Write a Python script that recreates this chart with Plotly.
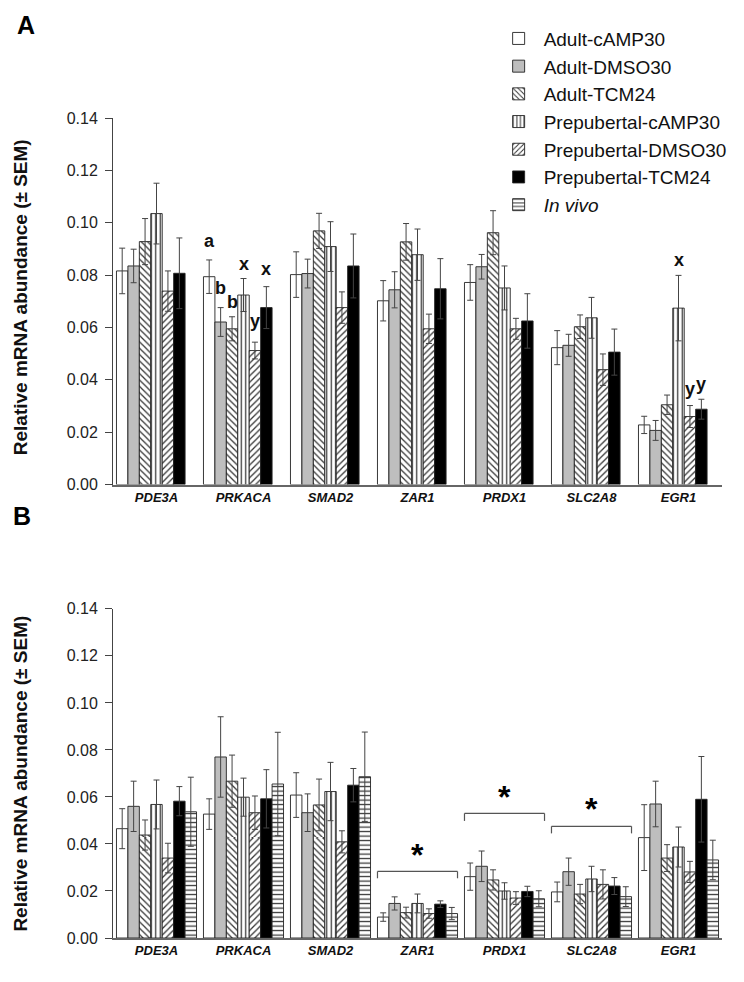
import plotly.graph_objects as go

genes = ["PDE3A", "PRKACA", "SMAD2", "ZAR1", "PRDX1", "SLC2A8", "EGR1"]
series_names = ["Adult-cAMP30", "Adult-DMSO30", "Adult-TCM24",
                "Prepubertal-cAMP30", "Prepubertal-DMSO30", "Prepubertal-TCM24",
                "<i>In vivo</i>"]

# Panel A (values, SEM)
adult_camp_A = [0.0816, 0.0794, 0.0802, 0.0702, 0.0772, 0.0523, 0.0228]
adult_camp_A_err = [0.0087, 0.0064, 0.0087, 0.0077, 0.0068, 0.0065, 0.0033]
adult_dmso_A = [0.0835, 0.0621, 0.0806, 0.0744, 0.0832, 0.0532, 0.0207]
adult_dmso_A_err = [0.0064, 0.0055, 0.0055, 0.0069, 0.0047, 0.0042, 0.0038]
adult_tcm_A = [0.0928, 0.0595, 0.0969, 0.0927, 0.0962, 0.0603, 0.0305]
adult_tcm_A_err = [0.0088, 0.0046, 0.0067, 0.0070, 0.0084, 0.0045, 0.0037]
pre_camp_A = [0.1035, 0.0724, 0.0909, 0.0878, 0.0751, 0.0637, 0.0674]
pre_camp_A_err = [0.0116, 0.0063, 0.0095, 0.0098, 0.0084, 0.0078, 0.0125]
pre_dmso_A = [0.0739, 0.0512, 0.0676, 0.0595, 0.0595, 0.0439, 0.0260]
pre_dmso_A_err = [0.0077, 0.0032, 0.0060, 0.0056, 0.0040, 0.0060, 0.0042]
pre_tcm_A = [0.0807, 0.0676, 0.0835, 0.0748, 0.0625, 0.0506, 0.0288]
pre_tcm_A_err = [0.0135, 0.0080, 0.0122, 0.0115, 0.0104, 0.0088, 0.0038]
invivo_A = [None] * 7
invivo_A_err = [0] * 7

# Panel B (values, SEM)
adult_camp_B = [0.0465, 0.0527, 0.0608, 0.0089, 0.0261, 0.0196, 0.0427]
adult_camp_B_err = [0.0085, 0.0065, 0.0095, 0.0018, 0.0058, 0.0042, 0.0140]
adult_dmso_B = [0.0560, 0.0770, 0.0533, 0.0147, 0.0305, 0.0282, 0.0570]
adult_dmso_B_err = [0.0107, 0.0171, 0.0080, 0.0028, 0.0065, 0.0058, 0.0097]
adult_tcm_B = [0.0438, 0.0667, 0.0566, 0.0108, 0.0247, 0.0187, 0.0340]
adult_tcm_B_err = [0.0064, 0.0111, 0.0110, 0.0023, 0.0043, 0.0041, 0.0057]
pre_camp_B = [0.0568, 0.0599, 0.0623, 0.0147, 0.0200, 0.0251, 0.0387]
pre_camp_B_err = [0.0104, 0.0081, 0.0124, 0.0040, 0.0035, 0.0054, 0.0085]
pre_dmso_B = [0.0340, 0.0533, 0.0409, 0.0104, 0.0170, 0.0228, 0.0281]
pre_dmso_B_err = [0.0063, 0.0071, 0.0047, 0.0020, 0.0027, 0.0062, 0.0045]
pre_tcm_B = [0.0582, 0.0592, 0.0650, 0.0144, 0.0198, 0.0221, 0.0590]
pre_tcm_B_err = [0.0062, 0.0124, 0.0071, 0.0014, 0.0022, 0.0036, 0.0182]
invivo_B = [0.0537, 0.0655, 0.0686, 0.0104, 0.0167, 0.0176, 0.0332]
invivo_B_err = [0.0147, 0.0220, 0.0190, 0.0026, 0.0034, 0.0042, 0.0084]

tick_vals = [0.00, 0.02, 0.04, 0.06, 0.08, 0.10, 0.12, 0.14]

# significance letters (gene, bar index, label, y)
letters_A = [("PRKACA", 0, "a", 0.093), ("PRKACA", 1, "b", 0.075), ("PRKACA", 2, "b", 0.0697),
             ("PRKACA", 3, "x", 0.0841), ("PRKACA", 4, "y", 0.0625), ("PRKACA", 5, "x", 0.0822),
             ("EGR1", 3, "x", 0.0859), ("EGR1", 4, "y", 0.0366), ("EGR1", 5, "y", 0.0385)]
# brackets in panel B: (gene, bracket y, end y, star y)
brackets_B = [("ZAR1", 0.0283, 0.0254, 0.0355),
              ("PRDX1", 0.0530, 0.0498, 0.0600),
              ("SLC2A8", 0.0475, 0.0445, 0.0547)]

FONT = "Liberation Sans, Arial, sans-serif"
fills = [
    dict(color="white", shape=""),
    dict(color="#bebebe", shape=""),
    dict(color="white", shape="\\"),
    dict(color="white", shape="|"),
    dict(color="white", shape="/"),
    dict(color="black", shape=""),
    dict(color="white", shape="-"),
]

dataA = [(adult_camp_A, adult_camp_A_err), (adult_dmso_A, adult_dmso_A_err),
         (adult_tcm_A, adult_tcm_A_err), (pre_camp_A, pre_camp_A_err),
         (pre_dmso_A, pre_dmso_A_err), (pre_tcm_A, pre_tcm_A_err),
         (invivo_A, invivo_A_err)]
dataB = [(adult_camp_B, adult_camp_B_err), (adult_dmso_B, adult_dmso_B_err),
         (adult_tcm_B, adult_tcm_B_err), (pre_camp_B, pre_camp_B_err),
         (pre_dmso_B, pre_dmso_B_err), (pre_tcm_B, pre_tcm_B_err),
         (invivo_B, invivo_B_err)]

fig = go.Figure()


def marker_for(i):
    f = fills[i]
    m = dict(color=f["color"], line=dict(color="#222", width=0.9))
    if f["shape"]:
        m["pattern"] = dict(shape=f["shape"], fgcolor="#333", bgcolor="white",
                            size=4.5, solidity=0.28, fillmode="replace")
    return m


for i, (vals, errs) in enumerate(dataA):
    fig.add_trace(go.Bar(
        x=genes, y=vals, name=series_names[i], marker=marker_for(i),
        error_y=dict(type="data", array=errs, symmetric=True, color="#444",
                     thickness=1, width=3),
        xaxis="x", yaxis="y", legendgroup=f"g{i}", showlegend=True,
        offsetgroup=str(i)))
for i, (vals, errs) in enumerate(dataB):
    fig.add_trace(go.Bar(
        x=genes, y=vals, name=series_names[i], marker=marker_for(i),
        error_y=dict(type="data", array=errs, symmetric=True, color="#444",
                     thickness=1, width=3),
        xaxis="x2", yaxis="y2", legendgroup=f"g{i}", showlegend=False,
        offsetgroup=str(i)))

bargap = 0.08
slot = (1 - bargap) / 7

annotations = []
for gene, k, lab, yv in letters_A:
    xc = genes.index(gene) - (1 - bargap) / 2 + (k + 0.5) * slot
    annotations.append(dict(x=xc, y=yv, xref="x", yref="y", text=f"<b>{lab}</b>",
                            showarrow=False, font=dict(size=18, family=FONT, color="#111")))

shapes = []
for gene, yb, ye, ys in brackets_B:
    g = genes.index(gene)
    x0 = g - (1 - bargap) / 2
    x1 = g + (1 - bargap) / 2
    ln = dict(color="#555", width=1.2)
    shapes.append(dict(type="line", xref="x2", yref="y2", x0=x0, x1=x1, y0=yb, y1=yb, line=ln))
    shapes.append(dict(type="line", xref="x2", yref="y2", x0=x0, x1=x0, y0=yb, y1=ye, line=ln))
    shapes.append(dict(type="line", xref="x2", yref="y2", x0=x1, x1=x1, y0=yb, y1=ye, line=ln))
    annotations.append(dict(x=g, y=ys, xref="x2", yref="y2", text="<b>*</b>", showarrow=False,
                            font=dict(size=32, family=FONT, color="black")))

annotations.append(dict(x=-0.143, y=1.114, xref="paper", yref="paper", text="<b>A</b>",
                        xanchor="center", yanchor="middle",
                        showarrow=False, font=dict(size=25, family=FONT, color="black")))
annotations.append(dict(x=-0.150, y=0.515, xref="paper", yref="paper", text="<b>B</b>",
                        xanchor="center", yanchor="middle",
                        showarrow=False, font=dict(size=25, family=FONT, color="black")))
ytitle = "<b>Relative mRNA abundance (± SEM)</b>"
for yc in (0.782, 0.201):
    annotations.append(dict(x=-0.152, y=yc, xref="paper", yref="paper", text=ytitle,
                            textangle=-90, xanchor="center", yanchor="middle", showarrow=False,
                            font=dict(size=19, family=FONT, color="#111")))

yaxis_common = dict(range=[0, 0.14], tickvals=tick_vals, tickformat=".2f",
                    ticks="outside", ticklen=7, tickcolor="#444", showline=True,
                    linecolor="#444", linewidth=1, showgrid=False, zeroline=False,
                    ticklabelstandoff=4,
                    tickfont=dict(size=16, family=FONT, color="#222"))
xaxis_common = dict(showline=True, linecolor="#666", linewidth=1.5, ticks="",
                    showgrid=False, range=[-0.5, 6.5],
                    tickfont=dict(size=13, family=FONT, color="#111", style="italic", weight="bold"))

fig.update_layout(
    width=744, height=982,
    margin=dict(l=105, r=30, t=98, b=52),
    paper_bgcolor="white", plot_bgcolor="white",
    barmode="group", bargap=bargap, bargroupgap=0,
    xaxis=dict(**xaxis_common, domain=[0, 1], anchor="y"),
    yaxis=dict(**yaxis_common, domain=[0.5529, 1.0], anchor="x"),
    xaxis2=dict(**xaxis_common, domain=[0, 1], anchor="y2"),
    yaxis2=dict(**yaxis_common, domain=[0.0, 0.4014], anchor="x2"),
    legend=dict(x=0.625, y=1.12, xanchor="left", yanchor="top", orientation="v",
                font=dict(size=19, family=FONT, color="#111"), tracegroupgap=0,
                itemwidth=40, bgcolor="rgba(0,0,0,0)"),
    annotations=annotations, shapes=shapes,
    font=dict(family=FONT),
)

fig.write_html("out.html")
